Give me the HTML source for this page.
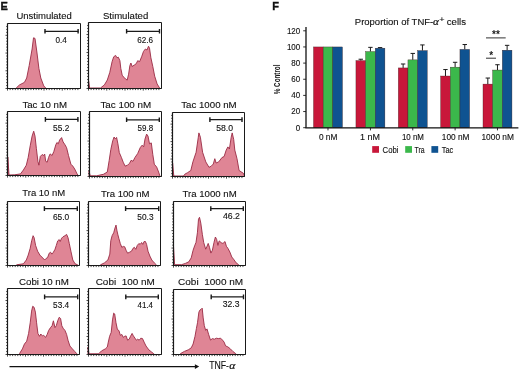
<!DOCTYPE html>
<html><head><meta charset="utf-8"><style>
html,body{margin:0;padding:0;background:#fff;}
body{width:520px;height:372px;overflow:hidden;}
svg{display:block;font-family:"Liberation Sans", sans-serif;will-change:transform;}
</style></head><body>
<svg width="520" height="372" viewBox="0 0 520 372">
<rect x="0" y="0" width="520" height="372" fill="#fff"/>
<g stroke-linejoin="round">
<path d="M16.20,88.50 L16.20,88.00 L19.50,84.90 L24.40,82.40 L26.70,78.00 L29.20,65.50 L32.10,49.00 L33.50,37.80 L35.00,38.40 L37.00,53.00 L38.90,68.40 L40.80,78.00 L43.75,85.90 L45.70,88.00 L45.70,88.50 Z" fill="#df8595" stroke="#9a2a44" stroke-width="0.9"/>
<rect x="7.50" y="23.50" width="73.00" height="65.00" fill="none" stroke="#1a1a1a" stroke-width="1.0"/>
<path d="M7.50,23.50 L7.50,88.50 L80.50,88.50" fill="none" stroke="#1a1a1a" stroke-width="1.2"/>
<path d="M5.50,88.50 L7.50,88.50 M6.20,85.55 L7.50,85.55 M6.20,82.59 L7.50,82.59 M6.20,79.64 L7.50,79.64 M6.20,76.68 L7.50,76.68 M6.20,73.73 L7.50,73.73 M5.50,70.77 L7.50,70.77 M6.20,67.82 L7.50,67.82 M6.20,64.86 L7.50,64.86 M6.20,61.91 L7.50,61.91 M6.20,58.95 L7.50,58.95 M6.20,56.00 L7.50,56.00 M5.50,53.05 L7.50,53.05 M6.20,50.09 L7.50,50.09 M6.20,47.14 L7.50,47.14 M6.20,44.18 L7.50,44.18 M6.20,41.23 L7.50,41.23 M6.20,38.27 L7.50,38.27 M5.50,35.32 L7.50,35.32 M6.20,32.36 L7.50,32.36 M6.20,29.41 L7.50,29.41 M6.20,26.45 L7.50,26.45 M7.50,88.50 L7.50,90.60 M10.11,88.50 L10.11,90.10 M12.71,88.50 L12.71,90.10 M15.32,88.50 L15.32,90.10 M17.93,88.50 L17.93,90.10 M20.54,88.50 L20.54,90.10 M23.14,88.50 L23.14,90.10 M25.75,88.50 L25.75,90.60 M28.36,88.50 L28.36,90.10 M30.96,88.50 L30.96,90.10 M33.57,88.50 L33.57,90.10 M36.18,88.50 L36.18,90.10 M38.79,88.50 L38.79,90.10 M41.39,88.50 L41.39,90.10 M44.00,88.50 L44.00,90.60 M46.61,88.50 L46.61,90.10 M49.21,88.50 L49.21,90.10 M51.82,88.50 L51.82,90.10 M54.43,88.50 L54.43,90.10 M57.04,88.50 L57.04,90.10 M59.64,88.50 L59.64,90.10 M62.25,88.50 L62.25,90.60 M64.86,88.50 L64.86,90.10 M67.46,88.50 L67.46,90.10 M70.07,88.50 L70.07,90.10 M72.68,88.50 L72.68,90.10 M75.29,88.50 L75.29,90.10 M77.89,88.50 L77.89,90.10" fill="none" stroke="#1a1a1a" stroke-width="0.8"/>
<path d="M44.70,31.30 L78.40,31.30" stroke="#1a1a1a" stroke-width="1.15" fill="none"/>
<path d="M45.00,29.00 L45.00,33.60 M78.10,29.00 L78.10,33.60" stroke="#1a1a1a" stroke-width="1.4" fill="none"/>
<text x="55.48" y="42.50" font-family='"Liberation Sans", sans-serif' font-size="8.6" font-weight="normal" textLength="11.36" lengthAdjust="spacingAndGlyphs" fill="#111111" stroke="#111111" stroke-width="0.12" >0.4</text>
<text x="16.47" y="18.70" font-family='"Liberation Sans", sans-serif' font-size="9.9" font-weight="normal" textLength="55.34" lengthAdjust="spacingAndGlyphs" fill="#111111" stroke="#111111" stroke-width="0.12" >Unstimulated</text>
<path d="M88.60,88.50 L88.60,81.00 L89.60,88.00 L100.50,88.00 L104.40,84.90 L107.30,80.00 L109.80,72.30 L112.10,61.60 L113.70,56.80 L115.60,55.40 L117.00,57.80 L118.30,57.20 L119.90,60.70 L120.80,68.40 L122.20,75.20 L123.70,77.10 L125.70,79.10 L127.20,80.10 L128.60,74.20 L129.90,65.50 L130.90,63.00 L132.10,66.50 L134.40,65.00 L136.30,63.60 L137.70,60.70 L139.60,61.60 L141.60,56.80 L143.50,51.40 L145.40,49.00 L147.00,50.00 L148.50,46.20 L149.50,48.10 L150.90,57.80 L152.80,66.50 L154.70,76.20 L157.10,83.90 L159.60,88.00 L159.60,88.50 Z" fill="#df8595" stroke="#9a2a44" stroke-width="0.9"/>
<rect x="88.50" y="22.50" width="73.00" height="66.00" fill="none" stroke="#1a1a1a" stroke-width="1.0"/>
<path d="M88.50,22.50 L88.50,88.50 L161.50,88.50" fill="none" stroke="#1a1a1a" stroke-width="1.2"/>
<path d="M86.50,88.50 L88.50,88.50 M87.20,85.50 L88.50,85.50 M87.20,82.50 L88.50,82.50 M87.20,79.50 L88.50,79.50 M87.20,76.50 L88.50,76.50 M87.20,73.50 L88.50,73.50 M86.50,70.50 L88.50,70.50 M87.20,67.50 L88.50,67.50 M87.20,64.50 L88.50,64.50 M87.20,61.50 L88.50,61.50 M87.20,58.50 L88.50,58.50 M87.20,55.50 L88.50,55.50 M86.50,52.50 L88.50,52.50 M87.20,49.50 L88.50,49.50 M87.20,46.50 L88.50,46.50 M87.20,43.50 L88.50,43.50 M87.20,40.50 L88.50,40.50 M87.20,37.50 L88.50,37.50 M86.50,34.50 L88.50,34.50 M87.20,31.50 L88.50,31.50 M87.20,28.50 L88.50,28.50 M87.20,25.50 L88.50,25.50 M88.50,88.50 L88.50,90.60 M91.11,88.50 L91.11,90.10 M93.71,88.50 L93.71,90.10 M96.32,88.50 L96.32,90.10 M98.93,88.50 L98.93,90.10 M101.54,88.50 L101.54,90.10 M104.14,88.50 L104.14,90.10 M106.75,88.50 L106.75,90.60 M109.36,88.50 L109.36,90.10 M111.96,88.50 L111.96,90.10 M114.57,88.50 L114.57,90.10 M117.18,88.50 L117.18,90.10 M119.79,88.50 L119.79,90.10 M122.39,88.50 L122.39,90.10 M125.00,88.50 L125.00,90.60 M127.61,88.50 L127.61,90.10 M130.21,88.50 L130.21,90.10 M132.82,88.50 L132.82,90.10 M135.43,88.50 L135.43,90.10 M138.04,88.50 L138.04,90.10 M140.64,88.50 L140.64,90.10 M143.25,88.50 L143.25,90.60 M145.86,88.50 L145.86,90.10 M148.46,88.50 L148.46,90.10 M151.07,88.50 L151.07,90.10 M153.68,88.50 L153.68,90.10 M156.29,88.50 L156.29,90.10 M158.89,88.50 L158.89,90.10" fill="none" stroke="#1a1a1a" stroke-width="0.8"/>
<path d="M126.30,31.30 L159.80,31.30" stroke="#1a1a1a" stroke-width="1.15" fill="none"/>
<path d="M126.60,29.00 L126.60,33.60 M159.50,29.00 L159.50,33.60" stroke="#1a1a1a" stroke-width="1.4" fill="none"/>
<text x="137.29" y="42.80" font-family='"Liberation Sans", sans-serif' font-size="8.6" font-weight="normal" textLength="15.86" lengthAdjust="spacingAndGlyphs" fill="#111111" stroke="#111111" stroke-width="0.12" >62.6</text>
<text x="102.97" y="18.60" font-family='"Liberation Sans", sans-serif' font-size="9.9" font-weight="normal" textLength="45.25" lengthAdjust="spacingAndGlyphs" fill="#111111" stroke="#111111" stroke-width="0.12" >Stimulated</text>
<path d="M7.80,175.50 L7.80,157.00 L9.00,175.00 L14.70,174.80 L20.50,173.90 L23.40,170.00 L26.30,165.20 L28.20,157.40 L30.20,145.80 L32.10,136.10 L33.70,131.20 L35.00,136.10 L36.40,148.70 L37.90,161.30 L38.90,165.20 L40.30,156.40 L42.20,154.50 L43.70,155.50 L44.70,154.10 L45.70,161.30 L47.20,162.20 L48.60,157.40 L50.10,153.90 L52.10,155.50 L53.80,151.60 L55.80,144.80 L56.90,142.50 L58.30,143.80 L59.60,140.00 L61.60,137.60 L63.10,141.90 L65.00,144.80 L66.60,147.70 L68.50,155.50 L70.90,164.20 L72.80,166.10 L74.70,169.00 L77.10,173.90 L78.60,176.00 L78.60,175.50 Z" fill="#df8595" stroke="#9a2a44" stroke-width="0.9"/>
<rect x="7.50" y="111.50" width="73.00" height="64.00" fill="none" stroke="#1a1a1a" stroke-width="1.0"/>
<path d="M7.50,111.50 L7.50,175.50 L80.50,175.50" fill="none" stroke="#1a1a1a" stroke-width="1.2"/>
<path d="M5.50,175.50 L7.50,175.50 M6.20,172.59 L7.50,172.59 M6.20,169.68 L7.50,169.68 M6.20,166.77 L7.50,166.77 M6.20,163.86 L7.50,163.86 M6.20,160.95 L7.50,160.95 M5.50,158.05 L7.50,158.05 M6.20,155.14 L7.50,155.14 M6.20,152.23 L7.50,152.23 M6.20,149.32 L7.50,149.32 M6.20,146.41 L7.50,146.41 M6.20,143.50 L7.50,143.50 M5.50,140.59 L7.50,140.59 M6.20,137.68 L7.50,137.68 M6.20,134.77 L7.50,134.77 M6.20,131.86 L7.50,131.86 M6.20,128.95 L7.50,128.95 M6.20,126.05 L7.50,126.05 M5.50,123.14 L7.50,123.14 M6.20,120.23 L7.50,120.23 M6.20,117.32 L7.50,117.32 M6.20,114.41 L7.50,114.41 M7.50,175.50 L7.50,177.60 M10.11,175.50 L10.11,177.10 M12.71,175.50 L12.71,177.10 M15.32,175.50 L15.32,177.10 M17.93,175.50 L17.93,177.10 M20.54,175.50 L20.54,177.10 M23.14,175.50 L23.14,177.10 M25.75,175.50 L25.75,177.60 M28.36,175.50 L28.36,177.10 M30.96,175.50 L30.96,177.10 M33.57,175.50 L33.57,177.10 M36.18,175.50 L36.18,177.10 M38.79,175.50 L38.79,177.10 M41.39,175.50 L41.39,177.10 M44.00,175.50 L44.00,177.60 M46.61,175.50 L46.61,177.10 M49.21,175.50 L49.21,177.10 M51.82,175.50 L51.82,177.10 M54.43,175.50 L54.43,177.10 M57.04,175.50 L57.04,177.10 M59.64,175.50 L59.64,177.10 M62.25,175.50 L62.25,177.60 M64.86,175.50 L64.86,177.10 M67.46,175.50 L67.46,177.10 M70.07,175.50 L70.07,177.10 M72.68,175.50 L72.68,177.10 M75.29,175.50 L75.29,177.10 M77.89,175.50 L77.89,177.10" fill="none" stroke="#1a1a1a" stroke-width="0.8"/>
<path d="M45.10,119.40 L78.20,119.40" stroke="#1a1a1a" stroke-width="1.15" fill="none"/>
<path d="M45.40,117.10 L45.40,121.70 M77.90,117.10 L77.90,121.70" stroke="#1a1a1a" stroke-width="1.4" fill="none"/>
<text x="53.07" y="131.00" font-family='"Liberation Sans", sans-serif' font-size="8.6" font-weight="normal" textLength="16.25" lengthAdjust="spacingAndGlyphs" fill="#111111" stroke="#111111" stroke-width="0.12" >55.2</text>
<text x="22.39" y="107.70" font-family='"Liberation Sans", sans-serif' font-size="9.9" font-weight="normal" textLength="44.61" lengthAdjust="spacingAndGlyphs" fill="#111111" stroke="#111111" stroke-width="0.12" >Tac 10 nM</text>
<path d="M89.00,176.50 L89.00,171.00 L90.20,175.80 L96.60,175.80 L103.40,174.30 L107.30,172.00 L109.20,160.30 L110.80,149.60 L112.70,140.90 L114.10,137.00 L115.40,139.00 L116.60,137.40 L117.90,143.80 L119.30,152.60 L121.40,157.40 L123.20,162.20 L125.10,166.10 L127.60,165.20 L129.60,163.20 L131.10,160.30 L133.00,161.30 L135.00,157.40 L137.70,153.50 L140.20,147.70 L142.10,145.20 L143.70,146.80 L145.00,139.00 L146.60,134.10 L148.00,136.10 L149.50,143.80 L151.30,142.90 L152.80,154.50 L154.30,164.20 L156.70,167.10 L158.60,172.00 L160.00,176.20 L160.00,176.50 Z" fill="#df8595" stroke="#9a2a44" stroke-width="0.9"/>
<rect x="89.50" y="111.50" width="72.00" height="65.00" fill="none" stroke="#1a1a1a" stroke-width="1.0"/>
<path d="M89.50,111.50 L89.50,176.50 L161.50,176.50" fill="none" stroke="#1a1a1a" stroke-width="1.2"/>
<path d="M87.50,176.50 L89.50,176.50 M88.20,173.55 L89.50,173.55 M88.20,170.59 L89.50,170.59 M88.20,167.64 L89.50,167.64 M88.20,164.68 L89.50,164.68 M88.20,161.73 L89.50,161.73 M87.50,158.77 L89.50,158.77 M88.20,155.82 L89.50,155.82 M88.20,152.86 L89.50,152.86 M88.20,149.91 L89.50,149.91 M88.20,146.95 L89.50,146.95 M88.20,144.00 L89.50,144.00 M87.50,141.05 L89.50,141.05 M88.20,138.09 L89.50,138.09 M88.20,135.14 L89.50,135.14 M88.20,132.18 L89.50,132.18 M88.20,129.23 L89.50,129.23 M88.20,126.27 L89.50,126.27 M87.50,123.32 L89.50,123.32 M88.20,120.36 L89.50,120.36 M88.20,117.41 L89.50,117.41 M88.20,114.45 L89.50,114.45 M89.50,176.50 L89.50,178.60 M92.07,176.50 L92.07,178.10 M94.64,176.50 L94.64,178.10 M97.21,176.50 L97.21,178.10 M99.79,176.50 L99.79,178.10 M102.36,176.50 L102.36,178.10 M104.93,176.50 L104.93,178.10 M107.50,176.50 L107.50,178.60 M110.07,176.50 L110.07,178.10 M112.64,176.50 L112.64,178.10 M115.21,176.50 L115.21,178.10 M117.79,176.50 L117.79,178.10 M120.36,176.50 L120.36,178.10 M122.93,176.50 L122.93,178.10 M125.50,176.50 L125.50,178.60 M128.07,176.50 L128.07,178.10 M130.64,176.50 L130.64,178.10 M133.21,176.50 L133.21,178.10 M135.79,176.50 L135.79,178.10 M138.36,176.50 L138.36,178.10 M140.93,176.50 L140.93,178.10 M143.50,176.50 L143.50,178.60 M146.07,176.50 L146.07,178.10 M148.64,176.50 L148.64,178.10 M151.21,176.50 L151.21,178.10 M153.79,176.50 L153.79,178.10 M156.36,176.50 L156.36,178.10 M158.93,176.50 L158.93,178.10" fill="none" stroke="#1a1a1a" stroke-width="0.8"/>
<path d="M126.30,119.80 L159.60,119.80" stroke="#1a1a1a" stroke-width="1.15" fill="none"/>
<path d="M126.60,117.50 L126.60,122.10 M159.30,117.50 L159.30,122.10" stroke="#1a1a1a" stroke-width="1.4" fill="none"/>
<text x="137.58" y="130.90" font-family='"Liberation Sans", sans-serif' font-size="8.6" font-weight="normal" textLength="15.57" lengthAdjust="spacingAndGlyphs" fill="#111111" stroke="#111111" stroke-width="0.12" >59.8</text>
<text x="100.38" y="107.60" font-family='"Liberation Sans", sans-serif' font-size="9.9" font-weight="normal" textLength="50.83" lengthAdjust="spacingAndGlyphs" fill="#111111" stroke="#111111" stroke-width="0.12" >Tac 100 nM</text>
<path d="M172.60,176.50 L172.60,163.00 L173.80,176.00 L183.50,176.00 L184.80,174.20 L187.50,172.70 L190.80,170.50 L192.90,161.90 L196.10,152.30 L198.30,137.20 L198.90,132.90 L200.40,137.20 L202.60,152.30 L205.80,161.90 L209.00,167.30 L211.20,166.20 L213.30,164.00 L214.80,158.70 L216.10,163.00 L218.70,161.90 L221.90,157.60 L224.10,156.50 L226.20,150.10 L227.90,146.90 L229.40,149.00 L231.20,137.20 L232.20,132.90 L233.70,139.40 L234.80,150.10 L237.00,158.70 L239.10,170.50 L243.40,173.30 L244.50,176.00 L244.50,176.50 Z" fill="#df8595" stroke="#9a2a44" stroke-width="0.9"/>
<rect x="172.50" y="112.50" width="72.00" height="64.00" fill="none" stroke="#1a1a1a" stroke-width="1.0"/>
<path d="M172.50,112.50 L172.50,176.50 L244.50,176.50" fill="none" stroke="#1a1a1a" stroke-width="1.2"/>
<path d="M170.50,176.50 L172.50,176.50 M171.20,173.59 L172.50,173.59 M171.20,170.68 L172.50,170.68 M171.20,167.77 L172.50,167.77 M171.20,164.86 L172.50,164.86 M171.20,161.95 L172.50,161.95 M170.50,159.05 L172.50,159.05 M171.20,156.14 L172.50,156.14 M171.20,153.23 L172.50,153.23 M171.20,150.32 L172.50,150.32 M171.20,147.41 L172.50,147.41 M171.20,144.50 L172.50,144.50 M170.50,141.59 L172.50,141.59 M171.20,138.68 L172.50,138.68 M171.20,135.77 L172.50,135.77 M171.20,132.86 L172.50,132.86 M171.20,129.95 L172.50,129.95 M171.20,127.05 L172.50,127.05 M170.50,124.14 L172.50,124.14 M171.20,121.23 L172.50,121.23 M171.20,118.32 L172.50,118.32 M171.20,115.41 L172.50,115.41 M172.50,176.50 L172.50,178.60 M175.07,176.50 L175.07,178.10 M177.64,176.50 L177.64,178.10 M180.21,176.50 L180.21,178.10 M182.79,176.50 L182.79,178.10 M185.36,176.50 L185.36,178.10 M187.93,176.50 L187.93,178.10 M190.50,176.50 L190.50,178.60 M193.07,176.50 L193.07,178.10 M195.64,176.50 L195.64,178.10 M198.21,176.50 L198.21,178.10 M200.79,176.50 L200.79,178.10 M203.36,176.50 L203.36,178.10 M205.93,176.50 L205.93,178.10 M208.50,176.50 L208.50,178.60 M211.07,176.50 L211.07,178.10 M213.64,176.50 L213.64,178.10 M216.21,176.50 L216.21,178.10 M218.79,176.50 L218.79,178.10 M221.36,176.50 L221.36,178.10 M223.93,176.50 L223.93,178.10 M226.50,176.50 L226.50,178.60 M229.07,176.50 L229.07,178.10 M231.64,176.50 L231.64,178.10 M234.21,176.50 L234.21,178.10 M236.79,176.50 L236.79,178.10 M239.36,176.50 L239.36,178.10 M241.93,176.50 L241.93,178.10" fill="none" stroke="#1a1a1a" stroke-width="0.8"/>
<path d="M209.60,119.60 L242.30,119.60" stroke="#1a1a1a" stroke-width="1.15" fill="none"/>
<path d="M209.90,117.30 L209.90,121.90 M242.00,117.30 L242.00,121.90" stroke="#1a1a1a" stroke-width="1.4" fill="none"/>
<text x="216.15" y="130.50" font-family='"Liberation Sans", sans-serif' font-size="8.6" font-weight="normal" textLength="16.88" lengthAdjust="spacingAndGlyphs" fill="#111111" stroke="#111111" stroke-width="0.12" >58.0</text>
<text x="181.19" y="107.60" font-family='"Liberation Sans", sans-serif' font-size="9.9" font-weight="normal" textLength="55.50" lengthAdjust="spacingAndGlyphs" fill="#111111" stroke="#111111" stroke-width="0.12" >Tac 1000 nM</text>
<path d="M16.60,265.50 L16.60,264.80 L23.40,263.80 L26.30,260.00 L28.20,255.10 L30.20,248.30 L31.70,240.60 L33.10,235.70 L34.10,237.60 L35.60,245.40 L37.60,251.20 L39.90,255.10 L42.80,258.00 L44.70,260.00 L46.10,258.40 L47.60,257.60 L49.20,253.20 L50.50,252.20 L51.90,254.10 L53.40,252.20 L55.00,249.30 L56.30,245.40 L57.70,240.90 L59.20,239.60 L60.20,241.50 L61.60,238.20 L63.10,236.70 L65.00,235.70 L66.60,234.40 L68.00,237.60 L69.30,243.50 L70.90,251.20 L72.80,260.00 L75.10,263.80 L77.60,264.80 L77.60,265.50 Z" fill="#df8595" stroke="#9a2a44" stroke-width="0.9"/>
<rect x="7.50" y="201.50" width="72.00" height="64.00" fill="none" stroke="#1a1a1a" stroke-width="1.0"/>
<path d="M7.50,201.50 L7.50,265.50 L79.50,265.50" fill="none" stroke="#1a1a1a" stroke-width="1.2"/>
<path d="M5.50,265.50 L7.50,265.50 M6.20,262.59 L7.50,262.59 M6.20,259.68 L7.50,259.68 M6.20,256.77 L7.50,256.77 M6.20,253.86 L7.50,253.86 M6.20,250.95 L7.50,250.95 M5.50,248.05 L7.50,248.05 M6.20,245.14 L7.50,245.14 M6.20,242.23 L7.50,242.23 M6.20,239.32 L7.50,239.32 M6.20,236.41 L7.50,236.41 M6.20,233.50 L7.50,233.50 M5.50,230.59 L7.50,230.59 M6.20,227.68 L7.50,227.68 M6.20,224.77 L7.50,224.77 M6.20,221.86 L7.50,221.86 M6.20,218.95 L7.50,218.95 M6.20,216.05 L7.50,216.05 M5.50,213.14 L7.50,213.14 M6.20,210.23 L7.50,210.23 M6.20,207.32 L7.50,207.32 M6.20,204.41 L7.50,204.41 M7.50,265.50 L7.50,267.60 M10.07,265.50 L10.07,267.10 M12.64,265.50 L12.64,267.10 M15.21,265.50 L15.21,267.10 M17.79,265.50 L17.79,267.10 M20.36,265.50 L20.36,267.10 M22.93,265.50 L22.93,267.10 M25.50,265.50 L25.50,267.60 M28.07,265.50 L28.07,267.10 M30.64,265.50 L30.64,267.10 M33.21,265.50 L33.21,267.10 M35.79,265.50 L35.79,267.10 M38.36,265.50 L38.36,267.10 M40.93,265.50 L40.93,267.10 M43.50,265.50 L43.50,267.60 M46.07,265.50 L46.07,267.10 M48.64,265.50 L48.64,267.10 M51.21,265.50 L51.21,267.10 M53.79,265.50 L53.79,267.10 M56.36,265.50 L56.36,267.10 M58.93,265.50 L58.93,267.10 M61.50,265.50 L61.50,267.60 M64.07,265.50 L64.07,267.10 M66.64,265.50 L66.64,267.10 M69.21,265.50 L69.21,267.10 M71.79,265.50 L71.79,267.10 M74.36,265.50 L74.36,267.10 M76.93,265.50 L76.93,267.10" fill="none" stroke="#1a1a1a" stroke-width="0.8"/>
<path d="M44.10,208.60 L77.60,208.60" stroke="#1a1a1a" stroke-width="1.15" fill="none"/>
<path d="M44.40,206.30 L44.40,210.90 M77.30,206.30 L77.30,210.90" stroke="#1a1a1a" stroke-width="1.4" fill="none"/>
<text x="52.98" y="219.50" font-family='"Liberation Sans", sans-serif' font-size="8.6" font-weight="normal" textLength="16.24" lengthAdjust="spacingAndGlyphs" fill="#111111" stroke="#111111" stroke-width="0.12" >65.0</text>
<text x="22.29" y="196.20" font-family='"Liberation Sans", sans-serif' font-size="9.9" font-weight="normal" textLength="42.99" lengthAdjust="spacingAndGlyphs" fill="#111111" stroke="#111111" stroke-width="0.12" >Tra 10 nM</text>
<path d="M100.50,265.50 L100.50,264.80 L104.40,262.90 L107.90,260.00 L109.80,254.10 L110.80,240.60 L112.10,235.70 L113.70,232.80 L115.00,228.00 L116.00,225.10 L117.00,230.90 L117.90,234.80 L118.90,238.60 L120.30,243.50 L121.80,247.30 L123.40,246.40 L124.70,246.80 L126.10,250.30 L127.60,253.20 L129.60,252.20 L131.50,251.20 L133.00,248.30 L134.40,247.30 L135.80,249.30 L137.30,245.40 L138.90,243.50 L140.20,244.40 L141.60,242.50 L142.80,244.40 L144.10,241.50 L145.40,241.50 L146.60,244.40 L148.00,251.20 L149.90,256.10 L151.80,260.00 L154.30,262.90 L156.30,264.80 L156.30,265.50 Z" fill="#df8595" stroke="#9a2a44" stroke-width="0.9"/>
<rect x="88.50" y="201.50" width="72.00" height="64.00" fill="none" stroke="#1a1a1a" stroke-width="1.0"/>
<path d="M88.50,201.50 L88.50,265.50 L160.50,265.50" fill="none" stroke="#1a1a1a" stroke-width="1.2"/>
<path d="M86.50,265.50 L88.50,265.50 M87.20,262.59 L88.50,262.59 M87.20,259.68 L88.50,259.68 M87.20,256.77 L88.50,256.77 M87.20,253.86 L88.50,253.86 M87.20,250.95 L88.50,250.95 M86.50,248.05 L88.50,248.05 M87.20,245.14 L88.50,245.14 M87.20,242.23 L88.50,242.23 M87.20,239.32 L88.50,239.32 M87.20,236.41 L88.50,236.41 M87.20,233.50 L88.50,233.50 M86.50,230.59 L88.50,230.59 M87.20,227.68 L88.50,227.68 M87.20,224.77 L88.50,224.77 M87.20,221.86 L88.50,221.86 M87.20,218.95 L88.50,218.95 M87.20,216.05 L88.50,216.05 M86.50,213.14 L88.50,213.14 M87.20,210.23 L88.50,210.23 M87.20,207.32 L88.50,207.32 M87.20,204.41 L88.50,204.41 M88.50,265.50 L88.50,267.60 M91.07,265.50 L91.07,267.10 M93.64,265.50 L93.64,267.10 M96.21,265.50 L96.21,267.10 M98.79,265.50 L98.79,267.10 M101.36,265.50 L101.36,267.10 M103.93,265.50 L103.93,267.10 M106.50,265.50 L106.50,267.60 M109.07,265.50 L109.07,267.10 M111.64,265.50 L111.64,267.10 M114.21,265.50 L114.21,267.10 M116.79,265.50 L116.79,267.10 M119.36,265.50 L119.36,267.10 M121.93,265.50 L121.93,267.10 M124.50,265.50 L124.50,267.60 M127.07,265.50 L127.07,267.10 M129.64,265.50 L129.64,267.10 M132.21,265.50 L132.21,267.10 M134.79,265.50 L134.79,267.10 M137.36,265.50 L137.36,267.10 M139.93,265.50 L139.93,267.10 M142.50,265.50 L142.50,267.60 M145.07,265.50 L145.07,267.10 M147.64,265.50 L147.64,267.10 M150.21,265.50 L150.21,267.10 M152.79,265.50 L152.79,267.10 M155.36,265.50 L155.36,267.10 M157.93,265.50 L157.93,267.10" fill="none" stroke="#1a1a1a" stroke-width="0.8"/>
<path d="M125.30,208.60 L159.00,208.60" stroke="#1a1a1a" stroke-width="1.15" fill="none"/>
<path d="M125.60,206.30 L125.60,210.90 M158.70,206.30 L158.70,210.90" stroke="#1a1a1a" stroke-width="1.4" fill="none"/>
<text x="137.37" y="219.50" font-family='"Liberation Sans", sans-serif' font-size="8.6" font-weight="normal" textLength="16.19" lengthAdjust="spacingAndGlyphs" fill="#111111" stroke="#111111" stroke-width="0.12" >50.3</text>
<text x="100.99" y="196.50" font-family='"Liberation Sans", sans-serif' font-size="9.9" font-weight="normal" textLength="48.60" lengthAdjust="spacingAndGlyphs" fill="#111111" stroke="#111111" stroke-width="0.12" >Tra 100 nM</text>
<path d="M173.50,265.50 L173.50,246.30 L174.60,264.70 L181.50,264.70 L185.40,263.40 L188.80,261.80 L191.20,257.90 L193.10,250.20 L194.60,245.90 L196.00,242.40 L197.40,232.80 L198.50,219.20 L199.50,217.30 L200.80,223.10 L202.40,234.70 L203.70,242.40 L205.70,249.20 L207.00,246.30 L208.20,243.40 L209.50,247.30 L210.90,253.10 L212.40,250.20 L214.00,242.40 L215.40,237.00 L216.70,239.50 L217.90,245.40 L219.20,240.90 L220.60,242.10 L222.10,243.40 L223.70,242.80 L225.00,241.50 L226.40,246.30 L227.90,248.30 L229.90,252.10 L231.80,257.00 L234.10,259.90 L236.10,262.80 L238.60,264.70 L238.60,265.50 Z" fill="#df8595" stroke="#9a2a44" stroke-width="0.9"/>
<rect x="173.50" y="201.50" width="72.00" height="64.00" fill="none" stroke="#1a1a1a" stroke-width="1.0"/>
<path d="M173.50,201.50 L173.50,265.50 L245.50,265.50" fill="none" stroke="#1a1a1a" stroke-width="1.2"/>
<path d="M171.50,265.50 L173.50,265.50 M172.20,262.59 L173.50,262.59 M172.20,259.68 L173.50,259.68 M172.20,256.77 L173.50,256.77 M172.20,253.86 L173.50,253.86 M172.20,250.95 L173.50,250.95 M171.50,248.05 L173.50,248.05 M172.20,245.14 L173.50,245.14 M172.20,242.23 L173.50,242.23 M172.20,239.32 L173.50,239.32 M172.20,236.41 L173.50,236.41 M172.20,233.50 L173.50,233.50 M171.50,230.59 L173.50,230.59 M172.20,227.68 L173.50,227.68 M172.20,224.77 L173.50,224.77 M172.20,221.86 L173.50,221.86 M172.20,218.95 L173.50,218.95 M172.20,216.05 L173.50,216.05 M171.50,213.14 L173.50,213.14 M172.20,210.23 L173.50,210.23 M172.20,207.32 L173.50,207.32 M172.20,204.41 L173.50,204.41 M173.50,265.50 L173.50,267.60 M176.07,265.50 L176.07,267.10 M178.64,265.50 L178.64,267.10 M181.21,265.50 L181.21,267.10 M183.79,265.50 L183.79,267.10 M186.36,265.50 L186.36,267.10 M188.93,265.50 L188.93,267.10 M191.50,265.50 L191.50,267.60 M194.07,265.50 L194.07,267.10 M196.64,265.50 L196.64,267.10 M199.21,265.50 L199.21,267.10 M201.79,265.50 L201.79,267.10 M204.36,265.50 L204.36,267.10 M206.93,265.50 L206.93,267.10 M209.50,265.50 L209.50,267.60 M212.07,265.50 L212.07,267.10 M214.64,265.50 L214.64,267.10 M217.21,265.50 L217.21,267.10 M219.79,265.50 L219.79,267.10 M222.36,265.50 L222.36,267.10 M224.93,265.50 L224.93,267.10 M227.50,265.50 L227.50,267.60 M230.07,265.50 L230.07,267.10 M232.64,265.50 L232.64,267.10 M235.21,265.50 L235.21,267.10 M237.79,265.50 L237.79,267.10 M240.36,265.50 L240.36,267.10 M242.93,265.50 L242.93,267.10" fill="none" stroke="#1a1a1a" stroke-width="0.8"/>
<path d="M210.50,208.60 L243.60,208.60" stroke="#1a1a1a" stroke-width="1.15" fill="none"/>
<path d="M210.80,206.30 L210.80,210.90 M243.30,206.30 L243.30,210.90" stroke="#1a1a1a" stroke-width="1.4" fill="none"/>
<text x="222.91" y="219.40" font-family='"Liberation Sans", sans-serif' font-size="8.6" font-weight="normal" textLength="17.03" lengthAdjust="spacingAndGlyphs" fill="#111111" stroke="#111111" stroke-width="0.12" >46.2</text>
<text x="182.49" y="196.50" font-family='"Liberation Sans", sans-serif' font-size="9.9" font-weight="normal" textLength="54.20" lengthAdjust="spacingAndGlyphs" fill="#111111" stroke="#111111" stroke-width="0.12" >Tra 1000 nM</text>
<path d="M19.50,354.50 L19.50,353.60 L22.40,348.90 L24.40,344.10 L26.70,341.20 L28.60,333.40 L30.20,322.80 L31.60,311.10 L32.70,306.30 L34.10,307.30 L35.40,312.10 L36.60,322.80 L37.90,333.40 L39.50,336.30 L40.80,334.00 L42.40,335.90 L43.70,335.40 L45.70,337.30 L47.20,334.40 L48.60,330.50 L50.50,327.60 L52.10,325.70 L53.40,320.80 L55.00,327.60 L56.30,325.70 L57.70,320.80 L59.20,317.30 L60.60,318.50 L61.80,325.70 L63.10,328.20 L65.00,330.50 L66.60,334.40 L68.00,340.20 L69.90,346.00 L72.40,348.90 L74.70,351.40 L76.70,353.60 L76.70,354.50 Z" fill="#df8595" stroke="#9a2a44" stroke-width="0.9"/>
<rect x="7.50" y="288.50" width="72.00" height="66.00" fill="none" stroke="#1a1a1a" stroke-width="1.0"/>
<path d="M7.50,288.50 L7.50,354.50 L79.50,354.50" fill="none" stroke="#1a1a1a" stroke-width="1.2"/>
<path d="M5.50,354.50 L7.50,354.50 M6.20,351.50 L7.50,351.50 M6.20,348.50 L7.50,348.50 M6.20,345.50 L7.50,345.50 M6.20,342.50 L7.50,342.50 M6.20,339.50 L7.50,339.50 M5.50,336.50 L7.50,336.50 M6.20,333.50 L7.50,333.50 M6.20,330.50 L7.50,330.50 M6.20,327.50 L7.50,327.50 M6.20,324.50 L7.50,324.50 M6.20,321.50 L7.50,321.50 M5.50,318.50 L7.50,318.50 M6.20,315.50 L7.50,315.50 M6.20,312.50 L7.50,312.50 M6.20,309.50 L7.50,309.50 M6.20,306.50 L7.50,306.50 M6.20,303.50 L7.50,303.50 M5.50,300.50 L7.50,300.50 M6.20,297.50 L7.50,297.50 M6.20,294.50 L7.50,294.50 M6.20,291.50 L7.50,291.50 M7.50,354.50 L7.50,356.60 M10.07,354.50 L10.07,356.10 M12.64,354.50 L12.64,356.10 M15.21,354.50 L15.21,356.10 M17.79,354.50 L17.79,356.10 M20.36,354.50 L20.36,356.10 M22.93,354.50 L22.93,356.10 M25.50,354.50 L25.50,356.60 M28.07,354.50 L28.07,356.10 M30.64,354.50 L30.64,356.10 M33.21,354.50 L33.21,356.10 M35.79,354.50 L35.79,356.10 M38.36,354.50 L38.36,356.10 M40.93,354.50 L40.93,356.10 M43.50,354.50 L43.50,356.60 M46.07,354.50 L46.07,356.10 M48.64,354.50 L48.64,356.10 M51.21,354.50 L51.21,356.10 M53.79,354.50 L53.79,356.10 M56.36,354.50 L56.36,356.10 M58.93,354.50 L58.93,356.10 M61.50,354.50 L61.50,356.60 M64.07,354.50 L64.07,356.10 M66.64,354.50 L66.64,356.10 M69.21,354.50 L69.21,356.10 M71.79,354.50 L71.79,356.10 M74.36,354.50 L74.36,356.10 M76.93,354.50 L76.93,356.10" fill="none" stroke="#1a1a1a" stroke-width="0.8"/>
<path d="M44.30,296.90 L78.00,296.90" stroke="#1a1a1a" stroke-width="1.15" fill="none"/>
<path d="M44.60,294.60 L44.60,299.20 M77.70,294.60 L77.70,299.20" stroke="#1a1a1a" stroke-width="1.4" fill="none"/>
<text x="53.07" y="307.50" font-family='"Liberation Sans", sans-serif' font-size="8.6" font-weight="normal" textLength="16.07" lengthAdjust="spacingAndGlyphs" fill="#111111" stroke="#111111" stroke-width="0.12" >53.4</text>
<text x="19.01" y="284.50" font-family='"Liberation Sans", sans-serif' font-size="9.9" font-weight="normal" textLength="49.78" lengthAdjust="spacingAndGlyphs" fill="#111111" stroke="#111111" stroke-width="0.12" >Cobi 10 nM</text>
<path d="M88.00,354.50 L88.00,347.00 L89.00,353.80 L98.60,353.80 L101.50,350.90 L105.30,348.90 L107.30,347.00 L108.30,342.10 L109.60,336.30 L111.20,332.40 L112.50,319.90 L113.70,313.10 L114.70,314.00 L116.00,322.80 L117.40,329.50 L118.90,330.50 L120.40,335.40 L121.80,334.40 L123.20,337.30 L124.70,336.30 L126.10,335.90 L127.60,340.20 L129.20,339.20 L130.50,336.30 L132.10,333.40 L133.40,335.90 L135.00,338.20 L136.30,340.20 L137.70,339.20 L139.20,340.20 L140.80,338.20 L142.50,338.60 L144.10,342.10 L146.00,346.00 L148.90,349.90 L151.80,352.20 L153.80,353.80 L153.80,354.50 Z" fill="#df8595" stroke="#9a2a44" stroke-width="0.9"/>
<rect x="88.50" y="288.50" width="73.00" height="66.00" fill="none" stroke="#1a1a1a" stroke-width="1.0"/>
<path d="M88.50,288.50 L88.50,354.50 L161.50,354.50" fill="none" stroke="#1a1a1a" stroke-width="1.2"/>
<path d="M86.50,354.50 L88.50,354.50 M87.20,351.50 L88.50,351.50 M87.20,348.50 L88.50,348.50 M87.20,345.50 L88.50,345.50 M87.20,342.50 L88.50,342.50 M87.20,339.50 L88.50,339.50 M86.50,336.50 L88.50,336.50 M87.20,333.50 L88.50,333.50 M87.20,330.50 L88.50,330.50 M87.20,327.50 L88.50,327.50 M87.20,324.50 L88.50,324.50 M87.20,321.50 L88.50,321.50 M86.50,318.50 L88.50,318.50 M87.20,315.50 L88.50,315.50 M87.20,312.50 L88.50,312.50 M87.20,309.50 L88.50,309.50 M87.20,306.50 L88.50,306.50 M87.20,303.50 L88.50,303.50 M86.50,300.50 L88.50,300.50 M87.20,297.50 L88.50,297.50 M87.20,294.50 L88.50,294.50 M87.20,291.50 L88.50,291.50 M88.50,354.50 L88.50,356.60 M91.11,354.50 L91.11,356.10 M93.71,354.50 L93.71,356.10 M96.32,354.50 L96.32,356.10 M98.93,354.50 L98.93,356.10 M101.54,354.50 L101.54,356.10 M104.14,354.50 L104.14,356.10 M106.75,354.50 L106.75,356.60 M109.36,354.50 L109.36,356.10 M111.96,354.50 L111.96,356.10 M114.57,354.50 L114.57,356.10 M117.18,354.50 L117.18,356.10 M119.79,354.50 L119.79,356.10 M122.39,354.50 L122.39,356.10 M125.00,354.50 L125.00,356.60 M127.61,354.50 L127.61,356.10 M130.21,354.50 L130.21,356.10 M132.82,354.50 L132.82,356.10 M135.43,354.50 L135.43,356.10 M138.04,354.50 L138.04,356.10 M140.64,354.50 L140.64,356.10 M143.25,354.50 L143.25,356.60 M145.86,354.50 L145.86,356.10 M148.46,354.50 L148.46,356.10 M151.07,354.50 L151.07,356.10 M153.68,354.50 L153.68,356.10 M156.29,354.50 L156.29,356.10 M158.89,354.50 L158.89,356.10" fill="none" stroke="#1a1a1a" stroke-width="0.8"/>
<path d="M125.50,296.90 L158.60,296.90" stroke="#1a1a1a" stroke-width="1.15" fill="none"/>
<path d="M125.80,294.60 L125.80,299.20 M158.30,294.60 L158.30,299.20" stroke="#1a1a1a" stroke-width="1.4" fill="none"/>
<text x="137.52" y="307.50" font-family='"Liberation Sans", sans-serif' font-size="8.6" font-weight="normal" textLength="15.51" lengthAdjust="spacingAndGlyphs" fill="#111111" stroke="#111111" stroke-width="0.12" >41.4</text>
<text x="95.70" y="284.70" font-family='"Liberation Sans", sans-serif' font-size="9.9" font-weight="normal" textLength="59.11" lengthAdjust="spacingAndGlyphs" fill="#111111" stroke="#111111" stroke-width="0.12" >Cobi&#160;&#160;100 nM</text>
<path d="M180.50,354.50 L180.50,353.60 L184.40,351.40 L188.30,349.80 L191.20,347.90 L193.10,344.00 L195.00,336.30 L196.40,328.50 L197.50,322.70 L198.90,312.10 L199.90,310.10 L201.20,309.20 L202.20,308.20 L203.20,317.90 L204.30,325.60 L205.70,330.40 L207.00,328.90 L208.60,334.30 L210.50,340.10 L212.40,338.60 L214.40,339.20 L216.30,338.20 L218.30,338.60 L220.60,338.20 L222.50,340.10 L224.10,342.10 L225.60,345.90 L227.90,346.90 L230.30,348.80 L232.80,351.40 L235.70,353.60 L235.70,354.50 Z" fill="#df8595" stroke="#9a2a44" stroke-width="0.9"/>
<rect x="173.50" y="289.50" width="72.00" height="65.00" fill="none" stroke="#1a1a1a" stroke-width="1.0"/>
<path d="M173.50,289.50 L173.50,354.50 L245.50,354.50" fill="none" stroke="#1a1a1a" stroke-width="1.2"/>
<path d="M171.50,354.50 L173.50,354.50 M172.20,351.55 L173.50,351.55 M172.20,348.59 L173.50,348.59 M172.20,345.64 L173.50,345.64 M172.20,342.68 L173.50,342.68 M172.20,339.73 L173.50,339.73 M171.50,336.77 L173.50,336.77 M172.20,333.82 L173.50,333.82 M172.20,330.86 L173.50,330.86 M172.20,327.91 L173.50,327.91 M172.20,324.95 L173.50,324.95 M172.20,322.00 L173.50,322.00 M171.50,319.05 L173.50,319.05 M172.20,316.09 L173.50,316.09 M172.20,313.14 L173.50,313.14 M172.20,310.18 L173.50,310.18 M172.20,307.23 L173.50,307.23 M172.20,304.27 L173.50,304.27 M171.50,301.32 L173.50,301.32 M172.20,298.36 L173.50,298.36 M172.20,295.41 L173.50,295.41 M172.20,292.45 L173.50,292.45 M173.50,354.50 L173.50,356.60 M176.07,354.50 L176.07,356.10 M178.64,354.50 L178.64,356.10 M181.21,354.50 L181.21,356.10 M183.79,354.50 L183.79,356.10 M186.36,354.50 L186.36,356.10 M188.93,354.50 L188.93,356.10 M191.50,354.50 L191.50,356.60 M194.07,354.50 L194.07,356.10 M196.64,354.50 L196.64,356.10 M199.21,354.50 L199.21,356.10 M201.79,354.50 L201.79,356.10 M204.36,354.50 L204.36,356.10 M206.93,354.50 L206.93,356.10 M209.50,354.50 L209.50,356.60 M212.07,354.50 L212.07,356.10 M214.64,354.50 L214.64,356.10 M217.21,354.50 L217.21,356.10 M219.79,354.50 L219.79,356.10 M222.36,354.50 L222.36,356.10 M224.93,354.50 L224.93,356.10 M227.50,354.50 L227.50,356.60 M230.07,354.50 L230.07,356.10 M232.64,354.50 L232.64,356.10 M235.21,354.50 L235.21,356.10 M237.79,354.50 L237.79,356.10 M240.36,354.50 L240.36,356.10 M242.93,354.50 L242.93,356.10" fill="none" stroke="#1a1a1a" stroke-width="0.8"/>
<path d="M210.90,296.90 L243.80,296.90" stroke="#1a1a1a" stroke-width="1.15" fill="none"/>
<path d="M211.20,294.60 L211.20,299.20 M243.50,294.60 L243.50,299.20" stroke="#1a1a1a" stroke-width="1.4" fill="none"/>
<text x="222.77" y="307.40" font-family='"Liberation Sans", sans-serif' font-size="8.6" font-weight="normal" textLength="16.80" lengthAdjust="spacingAndGlyphs" fill="#111111" stroke="#111111" stroke-width="0.12" >32.3</text>
<text x="178.10" y="284.70" font-family='"Liberation Sans", sans-serif' font-size="9.9" font-weight="normal" textLength="65.02" lengthAdjust="spacingAndGlyphs" fill="#111111" stroke="#111111" stroke-width="0.12" >Cobi&#160;&#160;1000 nM</text>
</g>
<text x="0.6" y="9.9" font-size="11" font-weight="bold" fill="#111" stroke="#111" stroke-width="0.35">E</text>
<path d="M9.5,366.6 L196,366.6" stroke="#111" stroke-width="1.1"/>
<path d="M199.2,366.6 L194.9,364.3 L194.9,368.9 Z" fill="#111"/>
<text x="209.21" y="368.80" font-family='"Liberation Sans", sans-serif' font-size="10.0" font-weight="normal" textLength="19.77" lengthAdjust="spacingAndGlyphs" fill="#111111" stroke="#111111" stroke-width="0.12" >TNF-</text>
<text x="229.26" y="368.80" font-family='"Liberation Serif", serif' font-size="10.0" font-style="italic" textLength="6.14" lengthAdjust="spacingAndGlyphs" fill="#111111" stroke="#111111" stroke-width="0.2" >&#945;</text>
<text x="272.3" y="9.9" font-size="11" font-weight="bold" fill="#111" stroke="#111" stroke-width="0.35">F</text>
<text x="354.82" y="24.60" font-family='"Liberation Sans", sans-serif' font-size="9.6" font-weight="normal" textLength="78.40" lengthAdjust="spacingAndGlyphs" fill="#111111" stroke="#111111" stroke-width="0.12" >Proportion of TNF-</text>
<text x="432.98" y="24.50" font-family='"Liberation Serif", serif' font-size="10.2" font-style="italic" textLength="5.83" lengthAdjust="spacingAndGlyphs" fill="#111111" stroke="#111111" stroke-width="0.2" >&#945;</text>
<text x="439.17" y="21.60" font-family='"Liberation Sans", sans-serif' font-size="8.0" font-weight="normal" textLength="5.28" lengthAdjust="spacingAndGlyphs" fill="#111111" stroke="#111111" stroke-width="0.12" >+</text>
<text x="446.80" y="24.60" font-family='"Liberation Sans", sans-serif' font-size="9.6" font-weight="normal" textLength="19.25" lengthAdjust="spacingAndGlyphs" fill="#111111" stroke="#111111" stroke-width="0.12" >cells</text>
<path d="M306.0,27.0 L306.0,127.8" stroke="#111" stroke-width="1.3"/>
<text x="295.77" y="130.60" font-family='"Liberation Sans", sans-serif' font-size="8.2" font-weight="normal" textLength="4.44" lengthAdjust="spacingAndGlyphs" fill="#111111" stroke="#111111" stroke-width="0.12" >0</text>
<text x="291.33" y="114.45" font-family='"Liberation Sans", sans-serif' font-size="8.2" font-weight="normal" textLength="8.88" lengthAdjust="spacingAndGlyphs" fill="#111111" stroke="#111111" stroke-width="0.12" >20</text>
<text x="291.33" y="98.30" font-family='"Liberation Sans", sans-serif' font-size="8.2" font-weight="normal" textLength="8.88" lengthAdjust="spacingAndGlyphs" fill="#111111" stroke="#111111" stroke-width="0.12" >40</text>
<text x="291.33" y="82.15" font-family='"Liberation Sans", sans-serif' font-size="8.2" font-weight="normal" textLength="8.88" lengthAdjust="spacingAndGlyphs" fill="#111111" stroke="#111111" stroke-width="0.12" >60</text>
<text x="291.33" y="66.00" font-family='"Liberation Sans", sans-serif' font-size="8.2" font-weight="normal" textLength="8.88" lengthAdjust="spacingAndGlyphs" fill="#111111" stroke="#111111" stroke-width="0.12" >80</text>
<text x="286.89" y="49.85" font-family='"Liberation Sans", sans-serif' font-size="8.2" font-weight="normal" textLength="13.31" lengthAdjust="spacingAndGlyphs" fill="#111111" stroke="#111111" stroke-width="0.12" >100</text>
<text x="286.89" y="33.70" font-family='"Liberation Sans", sans-serif' font-size="8.2" font-weight="normal" textLength="13.31" lengthAdjust="spacingAndGlyphs" fill="#111111" stroke="#111111" stroke-width="0.12" >120</text>
<path d="M303.20,127.70 L306.00,127.70 M303.20,111.55 L306.00,111.55 M303.20,95.40 L306.00,95.40 M303.20,79.25 L306.00,79.25 M303.20,63.10 L306.00,63.10 M303.20,46.95 L306.00,46.95 M303.20,30.80 L306.00,30.80" stroke="#1a1a1a" stroke-width="0.9"/>
<rect x="313.50" y="46.95" width="9.65" height="80.85" fill="#c8173a" stroke="#3a1a1a" stroke-width="0.35"/>
<rect x="323.15" y="46.95" width="9.65" height="80.85" fill="#3bb84b" stroke="#3a1a1a" stroke-width="0.35"/>
<rect x="332.80" y="46.95" width="9.65" height="80.85" fill="#0f5391" stroke="#3a1a1a" stroke-width="0.35"/>
<path d="M327.98,127.8 L327.98,130.4" stroke="#1a1a1a" stroke-width="0.9"/>
<text x="318.98" y="140.00" font-family='"Liberation Sans", sans-serif' font-size="8.4" font-weight="normal" textLength="18.40" lengthAdjust="spacingAndGlyphs" fill="#111111" stroke="#111111" stroke-width="0.12" >0 nM</text>
<path d="M360.77,60.60 L360.77,59.22 M358.57,59.22 L362.97,59.22" stroke="#1a1a1a" stroke-width="1.0"/>
<rect x="355.95" y="60.60" width="9.65" height="67.20" fill="#c8173a" stroke="#3a1a1a" stroke-width="0.35"/>
<path d="M370.42,51.55 L370.42,47.35 M368.22,47.35 L372.62,47.35" stroke="#1a1a1a" stroke-width="1.0"/>
<rect x="365.60" y="51.55" width="9.65" height="76.25" fill="#3bb84b" stroke="#3a1a1a" stroke-width="0.35"/>
<path d="M380.07,48.16 L380.07,47.60 M377.88,47.60 L382.27,47.60" stroke="#1a1a1a" stroke-width="1.0"/>
<rect x="375.25" y="48.16" width="9.65" height="79.64" fill="#0f5391" stroke="#3a1a1a" stroke-width="0.35"/>
<path d="M370.43,127.8 L370.43,130.4" stroke="#1a1a1a" stroke-width="0.9"/>
<text x="360.12" y="140.00" font-family='"Liberation Sans", sans-serif' font-size="8.4" font-weight="normal" textLength="19.92" lengthAdjust="spacingAndGlyphs" fill="#111111" stroke="#111111" stroke-width="0.12" >1 nM</text>
<path d="M403.12,67.94 L403.12,63.99 M400.93,63.99 L405.32,63.99" stroke="#1a1a1a" stroke-width="1.0"/>
<rect x="398.30" y="67.94" width="9.65" height="59.86" fill="#c8173a" stroke="#3a1a1a" stroke-width="0.35"/>
<path d="M412.77,59.87 L412.77,53.41 M410.57,53.41 L414.97,53.41" stroke="#1a1a1a" stroke-width="1.0"/>
<rect x="407.95" y="59.87" width="9.65" height="67.93" fill="#3bb84b" stroke="#3a1a1a" stroke-width="0.35"/>
<path d="M422.43,50.58 L422.43,44.93 M420.23,44.93 L424.62,44.93" stroke="#1a1a1a" stroke-width="1.0"/>
<rect x="417.60" y="50.58" width="9.65" height="77.22" fill="#0f5391" stroke="#3a1a1a" stroke-width="0.35"/>
<path d="M412.78,127.8 L412.78,130.4" stroke="#1a1a1a" stroke-width="0.9"/>
<text x="401.90" y="140.00" font-family='"Liberation Sans", sans-serif' font-size="8.4" font-weight="normal" textLength="22.06" lengthAdjust="spacingAndGlyphs" fill="#111111" stroke="#111111" stroke-width="0.12" >10 nM</text>
<path d="M445.47,76.02 L445.47,69.56 M443.27,69.56 L447.67,69.56" stroke="#1a1a1a" stroke-width="1.0"/>
<rect x="440.65" y="76.02" width="9.65" height="51.78" fill="#c8173a" stroke="#3a1a1a" stroke-width="0.35"/>
<path d="M455.12,67.14 L455.12,62.29 M452.92,62.29 L457.32,62.29" stroke="#1a1a1a" stroke-width="1.0"/>
<rect x="450.30" y="67.14" width="9.65" height="60.66" fill="#3bb84b" stroke="#3a1a1a" stroke-width="0.35"/>
<path d="M464.77,49.37 L464.77,44.53 M462.57,44.53 L466.97,44.53" stroke="#1a1a1a" stroke-width="1.0"/>
<rect x="459.95" y="49.37" width="9.65" height="78.43" fill="#0f5391" stroke="#3a1a1a" stroke-width="0.35"/>
<path d="M455.12,127.8 L455.12,130.4" stroke="#1a1a1a" stroke-width="0.9"/>
<text x="441.87" y="140.00" font-family='"Liberation Sans", sans-serif' font-size="8.4" font-weight="normal" textLength="27.61" lengthAdjust="spacingAndGlyphs" fill="#111111" stroke="#111111" stroke-width="0.12" >100 nM</text>
<path d="M487.82,84.09 L487.82,78.04 M485.62,78.04 L490.02,78.04" stroke="#1a1a1a" stroke-width="1.0"/>
<rect x="483.00" y="84.09" width="9.65" height="43.70" fill="#c8173a" stroke="#3a1a1a" stroke-width="0.35"/>
<path d="M497.47,70.04 L497.47,64.72 M495.27,64.72 L499.67,64.72" stroke="#1a1a1a" stroke-width="1.0"/>
<rect x="492.65" y="70.04" width="9.65" height="57.76" fill="#3bb84b" stroke="#3a1a1a" stroke-width="0.35"/>
<path d="M507.12,50.18 L507.12,45.34 M504.93,45.34 L509.32,45.34" stroke="#1a1a1a" stroke-width="1.0"/>
<rect x="502.30" y="50.18" width="9.65" height="77.62" fill="#0f5391" stroke="#3a1a1a" stroke-width="0.35"/>
<path d="M497.48,127.8 L497.48,130.4" stroke="#1a1a1a" stroke-width="0.9"/>
<text x="481.46" y="140.00" font-family='"Liberation Sans", sans-serif' font-size="8.4" font-weight="normal" textLength="32.52" lengthAdjust="spacingAndGlyphs" fill="#111111" stroke="#111111" stroke-width="0.12" >1000 nM</text>
<path d="M305.4,127.8 L518.4,127.8" stroke="#111" stroke-width="1.2"/>
<path d="M486,58.2 L496,58.2 M486,37.9 L505.7,37.9" stroke="#1a1a1a" stroke-width="0.9"/>
<text x="491.1" y="58.7" font-size="10" font-weight="bold" text-anchor="middle" fill="#1a1a1a">*</text>
<text x="496.0" y="38.1" font-size="10" font-weight="bold" text-anchor="middle" fill="#1a1a1a">**</text>
<text transform="translate(279.6,79.4) rotate(-90)" x="0" y="0" font-size="8.6" font-weight="bold" text-anchor="middle" fill="#1a1a1a" textLength="29.6" lengthAdjust="spacingAndGlyphs">% Control</text>
<rect x="372.2" y="146.1" width="6.8" height="6.7" fill="#c8173a"/>
<text x="382.61" y="153.00" font-family='"Liberation Sans", sans-serif' font-size="8.2" font-weight="normal" textLength="15.91" lengthAdjust="spacingAndGlyphs" fill="#111111" stroke="#111111" stroke-width="0.12" >Cobi</text>
<rect x="405.2" y="146.1" width="6.8" height="6.7" fill="#3bb84b"/>
<text x="414.45" y="153.00" font-family='"Liberation Sans", sans-serif' font-size="8.2" font-weight="normal" textLength="10.14" lengthAdjust="spacingAndGlyphs" fill="#111111" stroke="#111111" stroke-width="0.12" >Tra</text>
<rect x="431.4" y="146.1" width="6.8" height="6.7" fill="#0f5391"/>
<text x="441.74" y="153.00" font-family='"Liberation Sans", sans-serif' font-size="8.2" font-weight="normal" textLength="11.56" lengthAdjust="spacingAndGlyphs" fill="#111111" stroke="#111111" stroke-width="0.12" >Tac</text>
</svg>
</body></html>
